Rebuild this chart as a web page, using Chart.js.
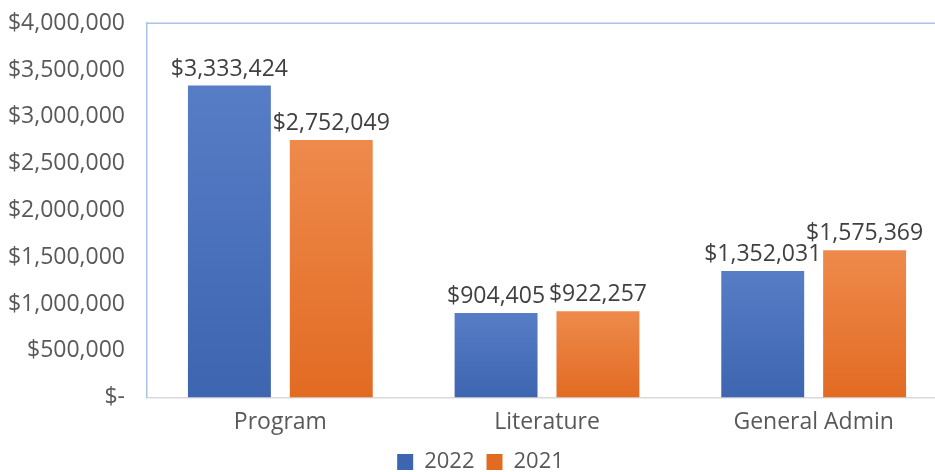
<!DOCTYPE html>
<html lang="en">
<head>
    <meta charset="UTF-8">
    <title>Expenses 2022 vs 2021</title>
    <script src="https://cdn.jsdelivr.net/npm/chart.js"></script>
    <style>
        html, body {
            margin: 0;
            padding: 0;
            background: white;
            overflow: hidden;
        }
        #wrap {
            width: 962px;
            height: 483px;
        }
    </style>
</head>
<body>
    <div id="wrap"><canvas id="expChart"></canvas></div>

    <script>
        // chart data
        const categories = ['Program', 'Literature', 'General Admin'];
        const years = ['2022', '2021'];
        const values2022 = [3333424, 904405, 1352031];
        const values2021 = [2752049, 922257, 1575369];

        const fontFamily = "'Open Sans', 'DejaVu Sans', sans-serif";

        function money(v) {
            if (v === 0) return '$-';
            return '$' + v.toLocaleString('en-US');
        }

        // vertical gradient per bar, light at top
        function barGradient(top, bottom) {
            return function (ctx) {
                const chart = ctx.chart;
                if (!chart.chartArea || ctx.raw === undefined) return bottom;
                const y = chart.scales.y.getPixelForValue(ctx.raw);
                const base = chart.scales.y.getPixelForValue(0);
                const g = chart.ctx.createLinearGradient(0, y, 0, base);
                g.addColorStop(0, top);
                g.addColorStop(1, bottom);
                return g;
            };
        }

        // value labels above the bars
        const valueLabels = {
            id: 'valueLabels',
            afterDatasetsDraw(chart) {
                const c = chart.ctx;
                c.save();
                c.font = '23px ' + fontFamily;
                c.fillStyle = '#404040';
                c.textAlign = 'center';
                c.textBaseline = 'bottom';
                chart.data.datasets.forEach((ds, i) => {
                    chart.getDatasetMeta(i).data.forEach((bar, j) => {
                        c.fillText(money(ds.data[j]), bar.x, bar.y - 5);
                    });
                });
                c.restore();
            }
        };

        // light blue line on the top edge of the plot area,
        // and nudge the legend a little to the right
        const plotTop = {
            id: 'plotTop',
            afterLayout(chart) {
                chart.legend.left += 7;
                chart.legend.right += 7;
            },
            beforeDatasetsDraw(chart) {
                const a = chart.chartArea;
                const c = chart.ctx;
                c.save();
                c.strokeStyle = '#A9C3E8';
                c.lineWidth = 1.5;
                c.beginPath();
                c.moveTo(a.left, a.top);
                c.lineTo(a.right + 20, a.top);
                c.stroke();
                c.restore();
            }
        };

        new Chart(document.getElementById('expChart'), {
            type: 'bar',
            data: {
                labels: categories,
                datasets: [{
                    label: years[0],
                    data: values2022,
                    backgroundColor: barGradient('#577DC6', '#3D65B0'),
                    categoryPercentage: 0.764,
                    barPercentage: 0.814
                }, {
                    label: years[1],
                    data: values2021,
                    backgroundColor: barGradient('#EE8A4C', '#E26B22'),
                    categoryPercentage: 0.764,
                    barPercentage: 0.814
                }]
            },
            options: {
                responsive: true,
                maintainAspectRatio: false,
                animation: false,
                layout: { padding: { top: 22, right: 15, bottom: 0, left: 0 } },
                plugins: {
                    legend: {
                        position: 'bottom',
                        labels: {
                            boxWidth: 16,
                            boxHeight: 16,
                            padding: 12,
                            color: '#595959',
                            font: { family: fontFamily, size: 22 }
                        }
                    },
                    tooltip: { enabled: false }
                },
                scales: {
                    x: {
                        grid: { display: false },
                        border: { color: '#D9D9D9', width: 1.5 },
                        ticks: {
                            color: '#595959',
                            padding: 9,
                            font: { family: fontFamily, size: 23, lineHeight: 0.67 }
                        }
                    },
                    y: {
                        min: 0,
                        max: 4000000,
                        grid: { display: false },
                        border: { color: '#A9C3E8', width: 1.5 },
                        afterFit(axis) { axis.width = 147; },
                        ticks: {
                            stepSize: 500000,
                            padding: 14,
                            color: '#595959',
                            font: { family: fontFamily, size: 23, lineHeight: 0.8 },
                            callback: (v) => money(v)
                        }
                    }
                }
            },
            plugins: [valueLabels, plotTop]
        });
    </script>
</body>
</html>
